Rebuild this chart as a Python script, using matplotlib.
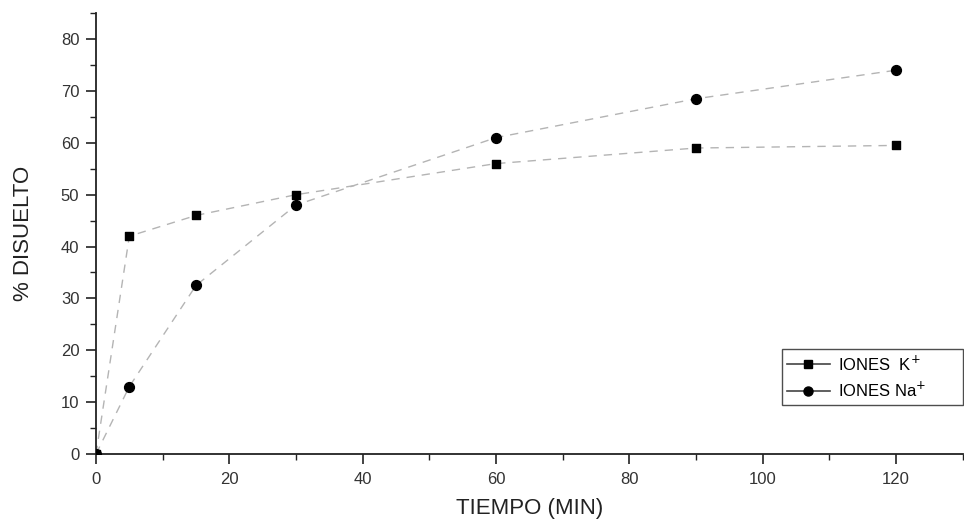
import matplotlib
matplotlib.use("Agg")
import matplotlib.pyplot as plt
from matplotlib.ticker import MultipleLocator

plt.rcParams['font.family'] = ['Liberation Sans', 'DejaVu Sans']

# dissolution time (min) and % dissolved
tiempo = [0, 5, 15, 30, 60, 90, 120]
iones_k = [0, 42, 46, 50, 56, 59, 59.5]
iones_na = [0, 13, 32.5, 48, 61, 68.5, 74]

x_ticks = [0, 20, 40, 60, 80, 100, 120]
y_ticks = [0, 10, 20, 30, 40, 50, 60, 70, 80]

fig = plt.figure(figsize=(9.64, 5.27), dpi=100)
ax = fig.add_axes([0.0996, 0.1385, 0.899, 0.8365])

line_col = '#b4b4b4'
ax.plot(tiempo, iones_k, color=line_col, lw=1.0, dashes=(6, 5), zorder=1)
ax.plot(tiempo, iones_na, color=line_col, lw=1.0, dashes=(6, 5), zorder=1)
ax.scatter(tiempo, iones_k, marker='s', s=40, color='black', zorder=3)
ax.scatter(tiempo, iones_na, marker='o', s=50, color='black', zorder=3)

# legend proxies: solid handle line with marker
hk, = ax.plot([], [], color='#444444', lw=1.2, marker='s', ms=6, mfc='black', mec='black')
hn, = ax.plot([], [], color='#444444', lw=1.2, marker='o', ms=6.5, mfc='black', mec='black')
leg = ax.legend([hk, hn], ['IONES  K$^{+}$', 'IONES Na$^{+}$'],
                loc='lower left', bbox_to_anchor=(0.791, 0.111, 0.209, 0.132),
                mode='expand', fontsize=12, frameon=True, fancybox=False,
                handlelength=2.6, handletextpad=0.5, borderpad=0.3,
                labelspacing=0.45, borderaxespad=0)
leg.get_frame().set_edgecolor('#222222')
leg.get_frame().set_linewidth(1.0)

ax.set_xlim(0, 130)
ax.set_ylim(0, 85)
ax.set_xticks(x_ticks)
ax.set_yticks(y_ticks)
ax.xaxis.set_minor_locator(MultipleLocator(10))
ax.yaxis.set_minor_locator(MultipleLocator(5))

for s in ['top', 'right']:
    ax.spines[s].set_visible(False)
for s in ['left', 'bottom']:
    ax.spines[s].set_linewidth(1.3)
    ax.spines[s].set_color('#222222')

ax.tick_params(axis='both', which='major', direction='out', length=7, width=1.2,
               labelsize=12, colors='#222222', labelcolor='#333333')
ax.tick_params(axis='both', which='minor', direction='out', length=4, width=1.0,
               colors='#222222')
ax.tick_params(axis='x', pad=6)
ax.tick_params(axis='y', pad=5)

ax.set_xlabel('TIEMPO (MIN)', fontsize=16, color='#222222', labelpad=8)
ax.set_ylabel('% DISUELTO', fontsize=16, color='#222222', labelpad=19)

fig.savefig('out.png', dpi=100, facecolor='white')
